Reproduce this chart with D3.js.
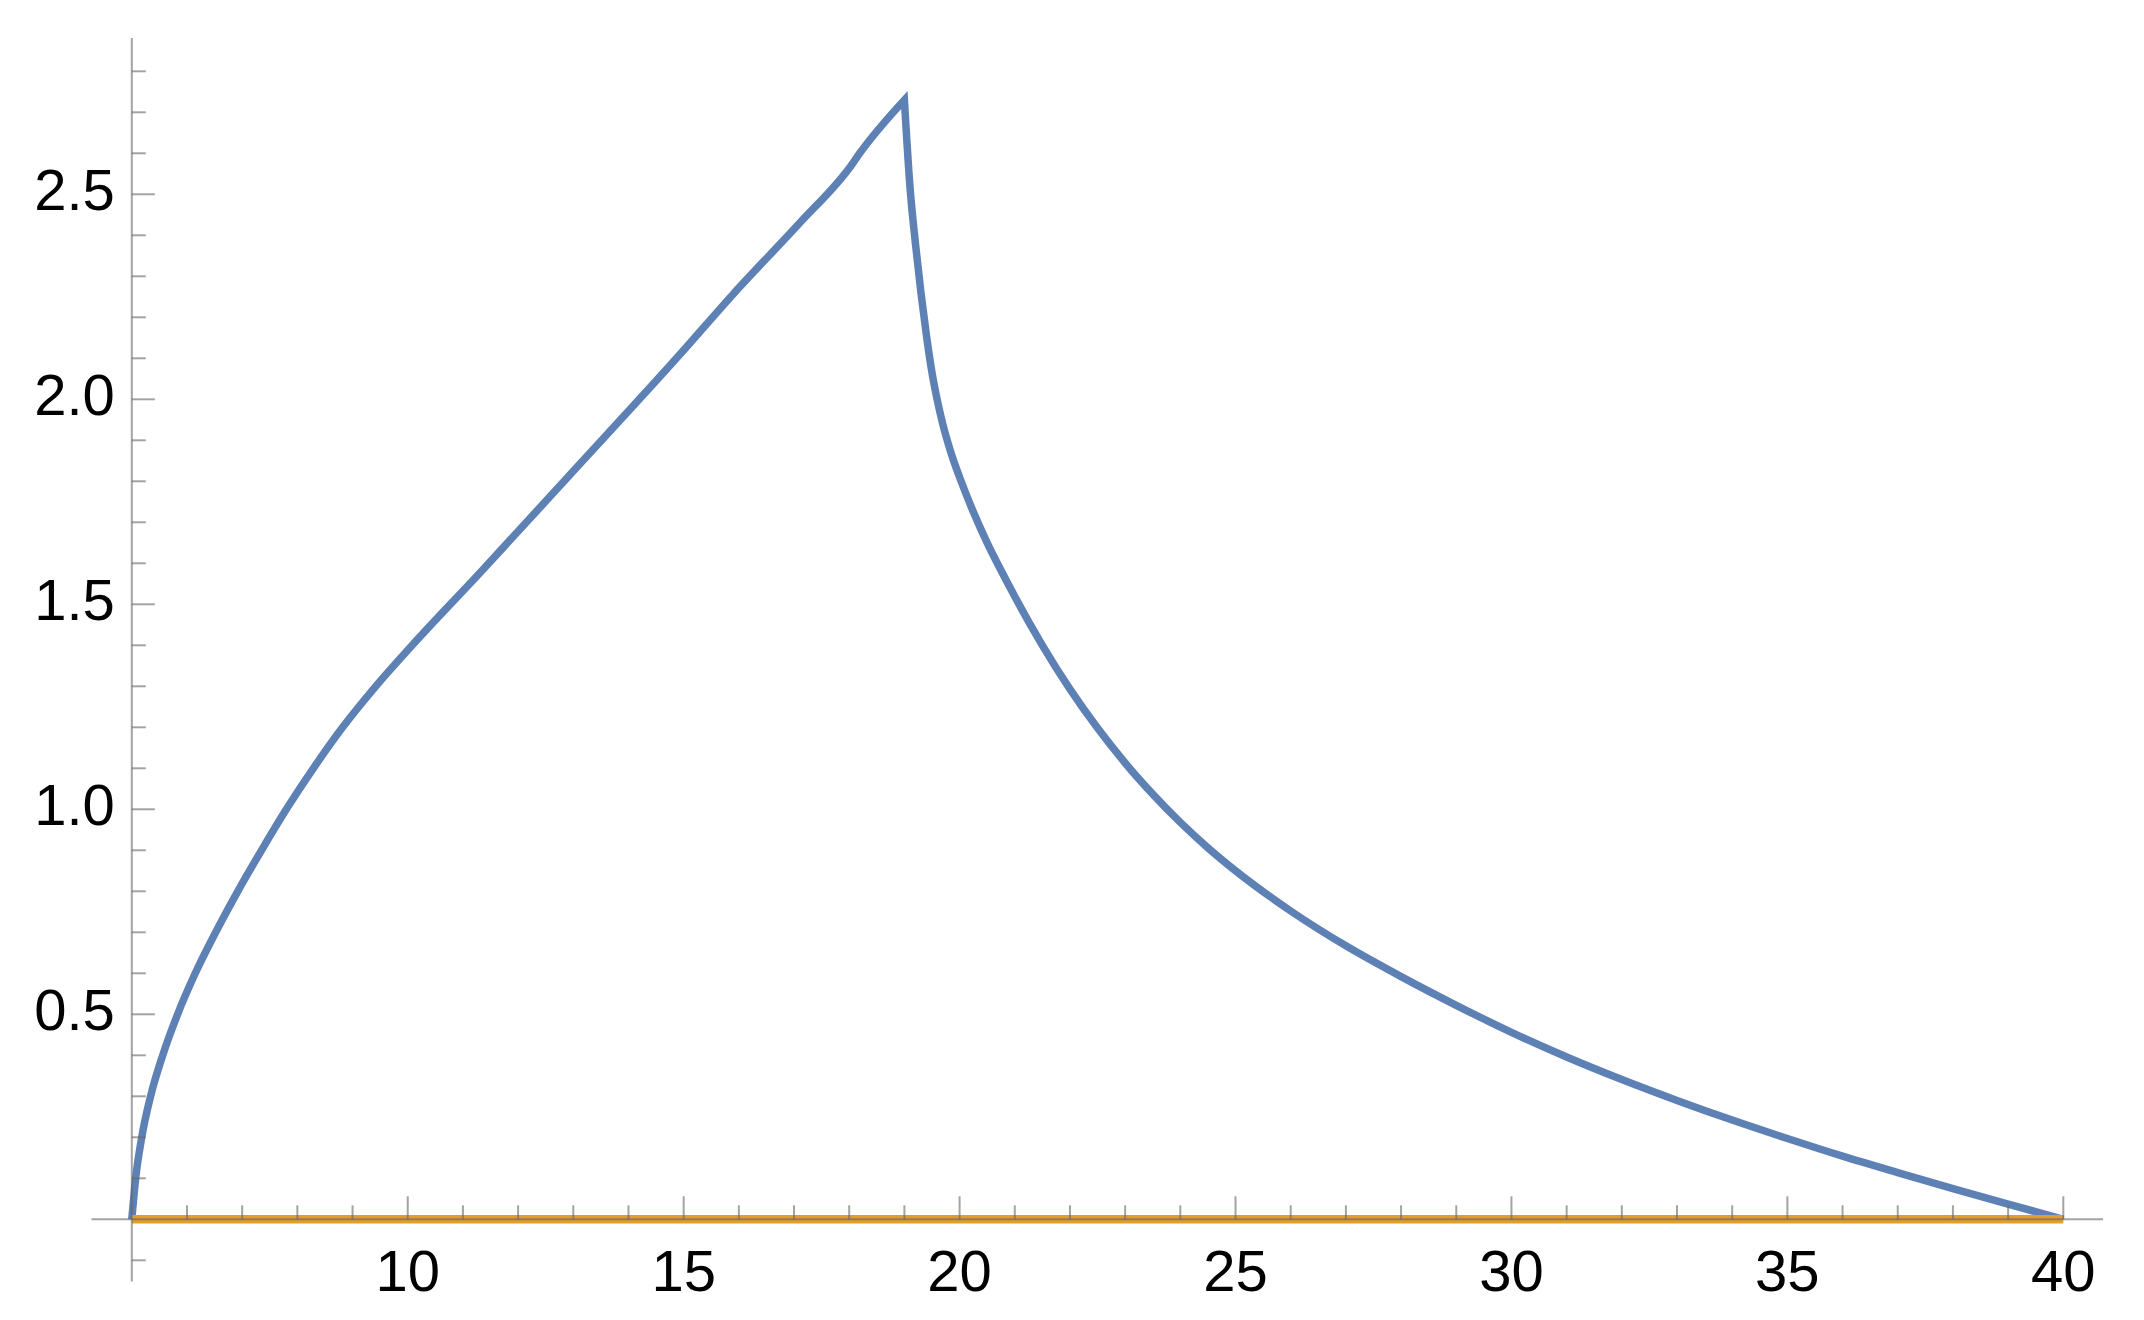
<!DOCTYPE html>
<html>
<head>
<meta charset="utf-8">
<script src="https://cdnjs.cloudflare.com/ajax/libs/d3/7.8.5/d3.min.js"></script>
<style>
    body { margin: 0; background: #fff; }
    .tick-label { font-family: "Liberation Sans", Arial, sans-serif; font-size: 58px; fill: #000; }
</style>
</head>
<body>
<div id="chart"></div>
<script>
// *** Data
// rising branch (ends at the peak)
var riseX = [5, 5.07, 5.18, 5.34, 5.56, 5.83, 6.15, 6.52, 6.92, 7.35, 7.8, 8.29, 8.82, 9.42, 10.08,
    11.31, 12.94, 14.93, 15.9, 17.11, 18.04, 18.19, 19.0];
var riseY = [0, 0.1, 0.2, 0.3, 0.4, 0.5, 0.6, 0.7, 0.8, 0.9, 1.0, 1.1, 1.2, 1.3, 1.4,
    1.577, 1.816, 2.109, 2.257, 2.431, 2.571, 2.60, 2.73];
// falling branch (starts at the peak)
var fallX = [19.0, 19.1, 19.2, 19.3, 19.4, 19.5, 19.6, 19.7, 19.8, 19.9, 20.0, 20.25, 20.5, 20.75,
    21.0, 21.5, 22.0, 22.5, 23.0, 23.5, 24.0, 24.5, 25.0, 26, 27, 28, 29, 30, 31, 32, 33, 34, 35,
    36, 37, 38, 39, 40];
var fallY = [2.73, 2.52, 2.38, 2.26, 2.155, 2.065, 1.995, 1.937, 1.889, 1.847, 1.81, 1.725, 1.65, 1.583,
    1.519, 1.40, 1.293, 1.198, 1.113, 1.037, 0.968, 0.906, 0.850, 0.752, 0.667, 0.592, 0.522, 0.456,
    0.396, 0.341, 0.29, 0.242, 0.197, 0.154, 0.114, 0.075, 0.037, 0];
var baseX = [5, 40];
var baseY = [0, 0];

var xMajor = [10, 15, 20, 25, 30, 35, 40];
var xMinor = d3.range(6, 40).filter(function(v) { return v % 5 !== 0; });
var yMajor = [0.5, 1.0, 1.5, 2.0, 2.5];
var yMinor = [-0.1, 0.1, 0.2, 0.3, 0.4, 0.6, 0.7, 0.8, 0.9, 1.1, 1.2, 1.3, 1.4, 1.6, 1.7, 1.8, 1.9,
    2.1, 2.2, 2.3, 2.4, 2.6, 2.7, 2.8];

// *** Set up svg
var width = 2144, height = 1320;

var x = d3.scaleLinear().domain([5, 40]).range([131.8, 2063.3]);
var y = d3.scaleLinear().domain([0, 2.5]).range([1219.3, 194.3]);

var svg = d3.select("#chart").append("svg")
    .attr("width", width)
    .attr("height", height);

var line = d3.line()
    .x(function(d) { return x(d[0]); })
    .y(function(d) { return y(d[1]); });

var smooth = d3.line()
    .x(function(d) { return x(d[0]); })
    .y(function(d) { return y(d[1]); })
    .curve(d3.curveMonotoneX);

function pairs(xs, ys) {
    return xs.map(function(v, i) { return [v, ys[i]]; });
}

// both branches are monotone, so smooth them separately and glue at the peak
// (keeps the sharp mitered tip)
var risePath = smooth(pairs(riseX, riseY));
var fallPath = smooth(pairs(fallX, fallY));
var curvePath = risePath + fallPath.slice(fallPath.indexOf("C"));

svg.append("path")
    .attr("d", curvePath)
    .attr("fill", "none")
    .attr("stroke", "#5e81b5")
    .attr("stroke-width", 7.5)
    .attr("stroke-linejoin", "miter");

svg.append("path")
    .datum(pairs(baseX, baseY))
    .attr("d", line)
    .attr("fill", "none")
    .attr("stroke", "#e39e2a")
    .attr("stroke-width", 8.5);

// *** Axes (drawn on top, semi transparent gray)
var axes = svg.append("g")
    .attr("stroke", "#666")
    .attr("stroke-opacity", 0.6)
    .attr("stroke-width", 2);

// x axis line + upward ticks
axes.append("line")
    .attr("x1", x(4.27)).attr("x2", x(40.72))
    .attr("y1", y(0)).attr("y2", y(0));

axes.selectAll(".xminor").data(xMinor).enter().append("line")
    .attr("x1", function(d) { return x(d); }).attr("x2", function(d) { return x(d); })
    .attr("y1", y(0)).attr("y2", y(0) - 14);

axes.selectAll(".xmajor").data(xMajor).enter().append("line")
    .attr("x1", function(d) { return x(d); }).attr("x2", function(d) { return x(d); })
    .attr("y1", y(0)).attr("y2", y(0) - 23);

// y axis line + rightward ticks
axes.append("line")
    .attr("x1", x(5)).attr("x2", x(5))
    .attr("y1", y(2.881)).attr("y2", y(-0.152));

axes.selectAll(".yminor").data(yMinor).enter().append("line")
    .attr("x1", x(5)).attr("x2", x(5) + 14)
    .attr("y1", function(d) { return y(d); }).attr("y2", function(d) { return y(d); });

axes.selectAll(".ymajor").data(yMajor).enter().append("line")
    .attr("x1", x(5)).attr("x2", x(5) + 23)
    .attr("y1", function(d) { return y(d); }).attr("y2", function(d) { return y(d); });

// *** Tick labels
svg.selectAll(".xlab").data(xMajor).enter().append("text")
    .attr("class", "tick-label")
    .attr("x", function(d) { return x(d); })
    .attr("y", y(0) + 72)
    .attr("text-anchor", "middle")
    .text(function(d) { return d; });

svg.selectAll(".ylab").data(yMajor).enter().append("text")
    .attr("class", "tick-label")
    .attr("x", x(5) - 17)
    .attr("y", function(d) { return y(d) + 15.5; })
    .attr("text-anchor", "end")
    .text(function(d) { return d3.format(".1f")(d); });
</script>
</body>
</html>
